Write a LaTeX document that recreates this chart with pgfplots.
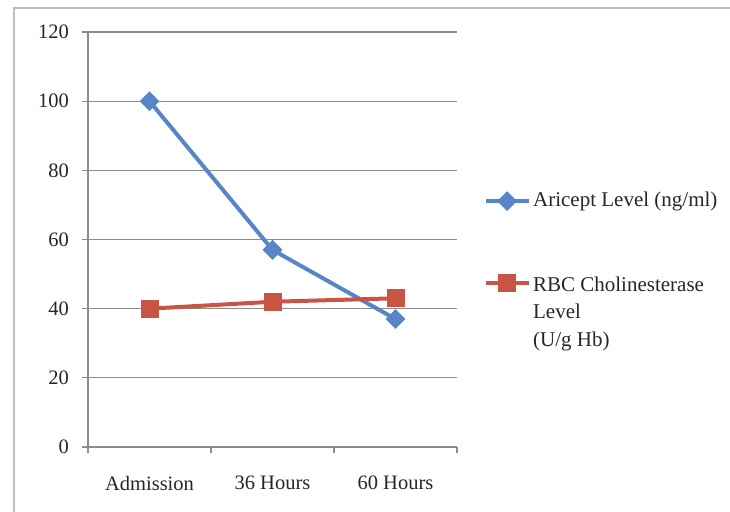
\documentclass[border=0pt]{standalone}
\usepackage{pgfplots}
\pgfplotsset{compat=1.18}
\usepackage{fontspec}
\setmainfont{Liberation Serif}

\definecolor{aricept}{RGB}{88,133,200}
\definecolor{rbc}{RGB}{200,84,68}
\definecolor{gridgray}{RGB}{140,140,140}
\definecolor{framegray}{RGB}{190,190,190}

\begin{document}
\fontsize{21bp}{27.5bp}\selectfont
\begin{tikzpicture}
\path[use as bounding box] (0,0) rectangle (730bp,512bp);
% outer frame (only top and left edges are visible)
\draw[framegray, line width=2bp] (14bp,0bp) -- (14bp,504bp) -- (730bp,504bp);

\begin{axis}[
    at={(88bp,65bp)}, anchor=south west,
    scale only axis,
    width=369bp, height=415bp,
    xmin=0, xmax=3,
    ymin=0, ymax=120,
    xtick={0,1,2,3},
    xticklabels={Admission,36 Hours,60 Hours},
    x tick label as interval,
    ytick={0,20,...,120},
    axis x line*=bottom,
    axis y line*=left,
    axis line style={gridgray, line width=1.2bp, -},
    tick style={gridgray, line width=1.2bp},
    tick align=outside,
    major tick length=6bp,
    ymajorgrids,
    grid style={gridgray, line width=1.2bp},
    /pgf/number format/assume math mode=true,
    tick label style={font=\fontsize{20.5bp}{24bp}\selectfont, text=black!85},
    yticklabel style={xshift=-6bp},
    xticklabel style={yshift=-16bp},
    legend style={
        at={(1.073,0.619)}, anchor=north west,
        draw=none, fill=none, inner sep=0pt,
        font=\fontsize{21bp}{27.5bp}\selectfont,
        row sep=58bp,
        cells={anchor=west},
        text=black!85,
    },
    legend image code/.code={
        \draw[mark repeat=2, mark phase=2]
            plot coordinates {(0bp,0bp) (21bp,0bp) (43bp,0bp)};
    },
]
\addplot[color=aricept, line width=4bp, mark=square*, mark size=5bp,
    mark options={rotate=45, solid, fill=aricept}]
    coordinates {(0.5,100) (1.5,57) (2.5,37)};
\addlegendentry{Aricept Level (ng/ml)}

\addplot[color=rbc, line width=4bp, mark=square*, mark size=7bp,
    mark options={solid, fill=rbc}]
    coordinates {(0.5,40) (1.5,42) (2.5,43)};
\addlegendentry{\raisebox{0pt}[\height][0pt]{\begin{tabular}[t]{@{}l@{}}RBC Cholinesterase\\Level\\(U/g Hb)\end{tabular}}}
\end{axis}
\end{tikzpicture}
\end{document}
